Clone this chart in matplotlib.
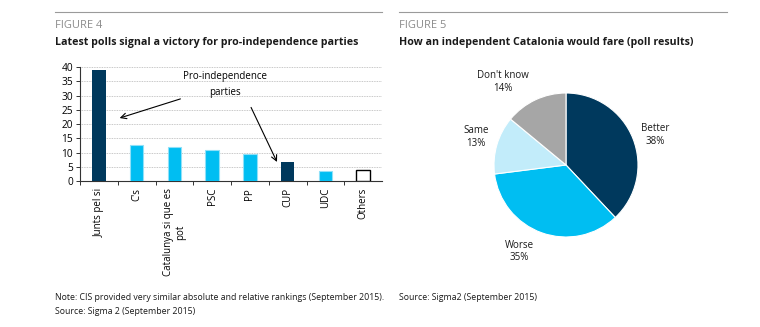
import numpy as np
import matplotlib.pyplot as plt
from matplotlib.lines import Line2D

plt.rcParams['font.family'] = ['Open Sans', 'DejaVu Sans']

# Figure 4 data
parties = ["Junts pel si", "C's", "Catalunya si que es\npot", "PSC", "PP", "CUP", "UDC", "Others"]
votes = [39, 12.5, 12, 11, 9.5, 6.5, 3.5, 4]
kinds = ["pro", "other", "other", "other", "other", "pro", "other", "rest"]

# Figure 5 data
answers = ["Better", "Worse", "Same", "Don't know"]
shares = [38, 35, 13, 14]

DARK = "#00395d"
LIGHT = "#00bef2"
PALE = "#c2ecfa"
GREY = "#a6a6a6"

fig = plt.figure(figsize=(7.6, 3.27), dpi=100)
W, H = 760, 327

def fx(px):
    return px / W

def fy(py):
    return 1 - py / H

# ---------------- headers ----------------
for x0, x1, num, title in [(55, 382, "FIGURE 4", "Latest polls signal a victory for pro-independence parties"),
                           (399, 727, "FIGURE 5", "How an independent Catalonia would fare (poll results)")]:
    fig.add_artist(Line2D([fx(x0), fx(x1)], [fy(12), fy(12)], color="#9a9a9a", lw=0.8))
    fig.text(fx(x0), fy(25), num, color="#8c8c8c", fontsize=8, va="center")
    fig.text(fx(x0), fy(42), title, color="#1a1a1a", fontsize=7.7, fontweight="bold", va="center")

# ---------------- bar chart ----------------
ax = fig.add_axes([fx(80), fy(181), fx(382) - fx(80), fy(67) - fy(181)])
x = np.arange(len(parties))
for xi, v, k in zip(x, votes, kinds):
    if k == "pro":
        ax.bar(xi, v, width=0.36, color=DARK, zorder=3)
    elif k == "other":
        ax.bar(xi, v, width=0.36, color=LIGHT, edgecolor="#8fe0f8", lw=0.8, zorder=3)
    else:
        ax.bar(xi, v, width=0.36, color="white", edgecolor="black", lw=1.0, zorder=3)

ax.set_xlim(-0.5, len(parties) - 0.5)
ax.set_ylim(0, 40)
ax.set_yticks(range(0, 41, 5))
ax.yaxis.grid(True, color="#b5b5b5", lw=0.6, ls=(0, (1, 1)))
ax.set_axisbelow(True)
for s in ["top", "right"]:
    ax.spines[s].set_visible(False)
ax.spines["left"].set_color("#333333")
ax.spines["bottom"].set_color("#333333")
ax.tick_params(axis="y", labelsize=7.3, length=3, width=0.7, pad=2, color="#333333")
ax.set_xticks(x - 0.5, minor=False)
ax.set_xticklabels([])
ax.set_xticks(x, minor=True)
ax.set_xticklabels(parties, minor=True, rotation=90, fontsize=7, va="top", ha="center")
ax.tick_params(axis="x", which="major", length=3, width=0.7, color="#333333")
ax.tick_params(axis="x", which="minor", length=0, pad=5)

ax.text(3.34, 33.9, "Pro-independence\nparties", ha="center", va="center", fontsize=7, linespacing=1.6)
ax.annotate("", xy=(0.48, 21.8), xytext=(2.23, 29.1),
            arrowprops=dict(arrowstyle="->", lw=0.8, color="black"))
ax.annotate("", xy=(4.75, 5.8), xytext=(4.0, 26.7),
            arrowprops=dict(arrowstyle="->", lw=0.8, color="black"))

fig.text(fx(55), fy(297), "Note: CIS provided very similar absolute and relative rankings (September 2015).",
         fontsize=6.3, va="center", color="#1a1a1a")
fig.text(fx(55), fy(311), "Source: Sigma 2 (September 2015)", fontsize=6.3, va="center", color="#1a1a1a")

# ---------------- pie chart ----------------
r = 72
pax = fig.add_axes([fx(566 - r), fy(165 + r), 2 * r / W, 2 * r / H])
pax.pie(shares, colors=[DARK, LIGHT, PALE, GREY], startangle=90, counterclock=False,
        wedgeprops=dict(edgecolor="white", linewidth=0.8))
pax.set_xlim(-1, 1)
pax.set_ylim(-1, 1)
label_pos = [(1.24, 0.42), (-0.65, -1.20), (-1.25, 0.39), (-0.88, 1.15)]
for (lx, ly), name, val in zip(label_pos, answers, shares):
    pax.text(lx, ly, f"{name}\n{val}%", ha="center", va="center", fontsize=7,
             linespacing=1.2, color="#1a1a1a", clip_on=False)

fig.text(fx(399), fy(297), "Source: Sigma2 (September 2015)", fontsize=6.3, va="center", color="#1a1a1a")

fig.savefig("out.png", dpi=100)
